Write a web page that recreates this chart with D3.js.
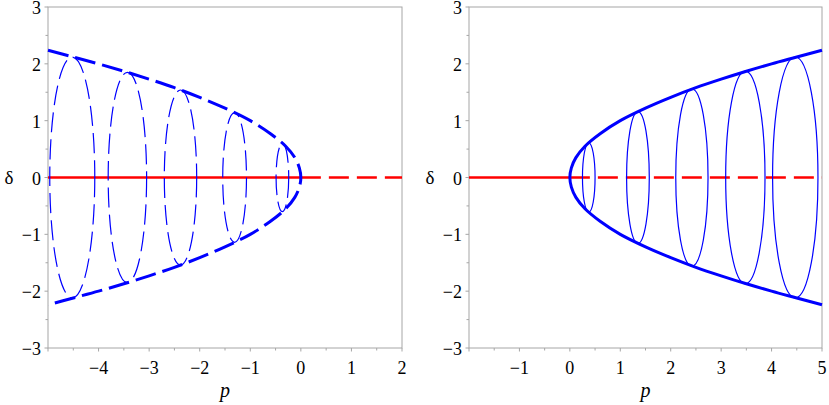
<!DOCTYPE html>
<html><head><meta charset="utf-8">
<script src="https://cdn.jsdelivr.net/npm/d3@7/dist/d3.min.js"></script>
<style>body{margin:0;background:#fff}svg{display:block}text{font-family:'Liberation Serif','DejaVu Serif','Times New Roman',serif}</style>
</head><body><svg id="c" width="829" height="405"></svg>
<script>
// ---- data ----
const yTicks = [-3,-2,-1,0,1,2,3];
const leftXTicks = [-4,-3,-2,-1,0,1,2];
const rightXTicks = [-1,0,1,2,3,4,5];
// parabola points (upper branch), |p| vs delta
const parabP = [5, 4.5, 4, 3.5, 3, 2.5, 2, 1.5, 1, 0.6, 0.3, 0.12, 0.03, 0];
const parabD = [2.24, 2.12, 2, 1.87, 1.73, 1.58, 1.41, 1.22, 1, 0.77, 0.55, 0.35, 0.17, 0];
// limit cycles: centers, half-widths (in p), half-heights (in delta)
const leftCyc = {c:[-4.52,-3.43,-2.38,-1.31,-0.365], a:[0.445,0.38,0.32,0.235,0.125], b:[2.12,1.85,1.54,1.14,0.6]};
const rightCyc = {c:[0.375,1.35,2.42,3.48,4.47], a:[0.125,0.225,0.32,0.39,0.45], b:[0.61,1.16,1.56,1.87,2.12]};

const svg = d3.select('#c');
const BLUE = '#0000ff', RED = '#ff0000', GRAY = '#a6a6a6';

function panel(opt){
  const x = d3.scaleLinear().domain(opt.xd).range(opt.xr);
  const y = d3.scaleLinear().domain([-3,3]).range([348,7]);
  const g = svg.append('g');
  // frame
  g.append('rect').attr('x',opt.xr[0]).attr('y',y(3)).attr('width',opt.xr[1]-opt.xr[0]).attr('height',y(-3)-y(3))
    .attr('fill','none').attr('stroke',GRAY).attr('stroke-width',1);
  // ticks
  const xMinor = d3.range(opt.xd[0], opt.xd[1]+0.01, 0.5);
  g.selectAll('.xt').data(xMinor).join('line')
    .attr('x1',d=>x(d)).attr('x2',d=>x(d)).attr('y1',y(-3)).attr('y2',d=>y(-3)+(Number.isInteger(d)?3.5:2.5))
    .attr('stroke',GRAY);
  const yMinor = d3.range(-3, 3.01, 0.5);
  g.selectAll('.yt').data(yMinor).join('line')
    .attr('y1',d=>y(d)).attr('y2',d=>y(d)).attr('x1',opt.xr[0]).attr('x2',d=>opt.xr[0]-(Number.isInteger(d)?3.5:2.5))
    .attr('stroke',GRAY);
  const fmt = v => (v<0?'\u2212':'')+Math.abs(v);
  g.selectAll('.xl').data(opt.xt).join('text')
    .attr('x',d=>x(d)).attr('y',y(-3)+26).attr('text-anchor','middle')
    .attr('font-size',18).text(fmt);
  g.selectAll('.yl').data(yTicks).join('text')
    .attr('x',opt.xr[0]-7).attr('y',d=>y(d)+7).attr('text-anchor','end')
    .attr('font-size',18).text(fmt);
  g.append('text').attr('x',(opt.xr[0]+opt.xr[1])/2).attr('y',397).attr('text-anchor','middle')
    .attr('font-style','italic').attr('font-size',20).text('p');
  g.append('text').attr('x',opt.xr[0]-39).attr('y',y(0)+6).attr('text-anchor','middle')
    .attr('font-size',19).text('\u03b4');

  // red line
  g.append('line').attr('x1',x(opt.xd[0])).attr('x2',x(0)).attr('y1',y(0)).attr('y2',y(0))
    .attr('stroke',RED).attr('stroke-width',2.6);
  g.append('line').attr('x1',x(0)).attr('x2',x(opt.xd[1])).attr('y1',y(0)).attr('y2',y(0))
    .attr('stroke',RED).attr('stroke-width',2.6).attr('stroke-dasharray','20,8');

  // limit cycles
  const cyc = opt.cyc;
  g.selectAll('.cy').data(cyc.c).join('ellipse')
    .attr('cx',d=>x(d)).attr('cy',y(0))
    .attr('rx',(d,i)=>x(d+cyc.a[i])-x(d)).attr('ry',(d,i)=>y(0)-y(cyc.b[i]))
    .attr('fill','none').attr('stroke',BLUE).attr('stroke-width',1.2)
    .attr('stroke-dasharray',opt.dashed?'20,7':null);

  // parabola
  const pts = [];
  parabP.forEach((p,i)=>pts.push([opt.sign*p, parabD[i]]));
  for(let i=parabP.length-2;i>=0;i--) pts.push([opt.sign*parabP[i], -parabD[i]]);
  const line = d3.line().x(d=>x(d[0])).y(d=>y(d[1])).curve(d3.curveCatmullRom.alpha(0.5));
  g.append('path').datum(pts).attr('d',line).attr('fill','none').attr('stroke',BLUE)
    .attr('stroke-width',3).attr('stroke-dasharray',opt.dashed?'21,7':null);
}

panel({xd:[-5,2], xr:[48,402], xt:leftXTicks, sign:-1, cyc:leftCyc, dashed:true});
panel({xd:[-2,5], xr:[469,822], xt:rightXTicks, sign:1, cyc:rightCyc, dashed:false});
</script></body></html>
